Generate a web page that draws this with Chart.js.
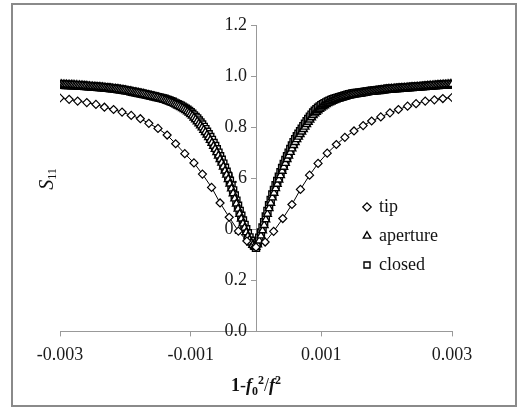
<!DOCTYPE html>
<html><head><meta charset="utf-8">
<script src="https://cdn.jsdelivr.net/npm/chart.js@4/dist/chart.umd.min.js"></script>
<style>html,body{margin:0;padding:0;background:#fff}</style>
</head><body>
<canvas id="c" width="521" height="415"></canvas>
<script>
// ---- data ----
const seriesNames = ['tip', 'aperture', 'closed'];
const xTicks = [-0.003, -0.001, 0.001, 0.003];
const xTickLabels = ['-0.003', '-0.001', '0.001', '0.003'];
const yTicks = [0, 0.2, 0.4, 0.6, 0.8, 1.0, 1.2];
const yTickLabels = ['0.0', '0.2', '0.4', '0.6', '0.8', '1.0', '1.2'];

const tipX = [-0.00300,-0.00286,-0.00273,-0.00259,-0.00245,-0.00232,-0.00218,-0.00205,-0.00191,-0.00177,
-0.00164,-0.00150,-0.00136,-0.00123,-0.00109,-0.00095,-0.00082,-0.00068,-0.00055,-0.00041,
-0.00027,-0.00014,0.00000,0.00014,0.00027,0.00041,0.00055,0.00068,0.00082,0.00095,
0.00109,0.00123,0.00136,0.00150,0.00164,0.00177,0.00191,0.00205,0.00218,0.00232,
0.00245,0.00259,0.00273,0.00286,0.00300];
const tipY = [0.914,0.909,0.902,0.896,0.889,0.878,0.869,0.859,0.846,0.833,
0.815,0.795,0.769,0.735,0.696,0.660,0.616,0.564,0.503,0.447,
0.393,0.354,0.330,0.350,0.392,0.442,0.497,0.556,0.612,0.658,
0.698,0.732,0.760,0.785,0.806,0.824,0.840,0.856,0.869,0.882,
0.892,0.902,0.907,0.912,0.916];

const denseX = [
-0.003,-0.002975,-0.00295,-0.002925,-0.0029,-0.002875,-0.00285,-0.002825,-0.0028,-0.002775,
-0.00275,-0.002725,-0.0027,-0.002675,-0.00265,-0.002625,-0.0026,-0.002575,-0.00255,-0.002525,
-0.0025,-0.002475,-0.00245,-0.002425,-0.0024,-0.002375,-0.00235,-0.002325,-0.0023,-0.002275,
-0.00225,-0.002225,-0.0022,-0.002175,-0.00215,-0.002125,-0.0021,-0.002075,-0.00205,-0.002025,
-0.002,-0.001975,-0.00195,-0.001925,-0.0019,-0.001875,-0.00185,-0.001825,-0.0018,-0.001775,
-0.00175,-0.001725,-0.0017,-0.001675,-0.00165,-0.001625,-0.0016,-0.001575,-0.00155,-0.001525,
-0.0015,-0.001475,-0.00145,-0.001425,-0.0014,-0.001375,-0.00135,-0.001325,-0.0013,-0.001275,
-0.00125,-0.001225,-0.0012,-0.001175,-0.00115,-0.001125,-0.0011,-0.001075,-0.00105,-0.001025,
-0.001,-0.000975,-0.00095,-0.000925,-0.0009,-0.000875,-0.00085,-0.000825,-0.0008,-0.000775,
-0.00075,-0.000725,-0.0007,-0.000675,-0.00065,-0.000625,-0.0006,-0.000575,-0.00055,-0.000525,
-0.0005,-0.000475,-0.00045,-0.000425,-0.0004,-0.000375,-0.00035,-0.000325,-0.0003,-0.000275,
-0.00025,-0.000225,-0.0002,-0.000175,-0.00015,-0.000125,-0.0001,-0.000075,-0.00005,-0.000025,
0,
0.000025,0.00005,0.000075,0.0001,0.000125,0.00015,0.000175,0.0002,0.000225,0.00025,
0.000275,0.0003,0.000325,0.00035,0.000375,0.0004,0.000425,0.00045,0.000475,0.0005,
0.000525,0.00055,0.000575,0.0006,0.000625,0.00065,0.000675,0.0007,0.000725,0.00075,
0.000775,0.0008,0.000825,0.00085,0.000875,0.0009,0.000925,0.00095,0.000975,0.001,
0.001025,0.00105,0.001075,0.0011,0.001125,0.00115,0.001175,0.0012,0.001225,0.00125,
0.001275,0.0013,0.001325,0.00135,0.001375,0.0014,0.001425,0.00145,0.001475,0.0015,
0.001525,0.00155,0.001575,0.0016,0.001625,0.00165,0.001675,0.0017,0.001725,0.00175,
0.001775,0.0018,0.001825,0.00185,0.001875,0.0019,0.001925,0.00195,0.001975,0.002,
0.002025,0.00205,0.002075,0.0021,0.002125,0.00215,0.002175,0.0022,0.002225,0.00225,
0.002275,0.0023,0.002325,0.00235,0.002375,0.0024,0.002425,0.00245,0.002475,0.0025,
0.002525,0.00255,0.002575,0.0026,0.002625,0.00265,0.002675,0.0027,0.002725,0.00275,
0.002775,0.0028,0.002825,0.00285,0.002875,0.0029,0.002925,0.00295,0.002975,0.003];

const apertureY = [
0.967,0.967,0.966,0.966,0.966,0.965,0.965,0.965,0.965,0.964,
0.964,0.963,0.963,0.962,0.962,0.961,0.961,0.960,0.960,0.959,
0.959,0.958,0.958,0.957,0.957,0.956,0.956,0.955,0.954,0.953,
0.953,0.952,0.951,0.950,0.950,0.949,0.948,0.947,0.946,0.945,
0.944,0.942,0.941,0.940,0.939,0.937,0.936,0.935,0.934,0.932,
0.931,0.930,0.928,0.926,0.925,0.923,0.922,0.920,0.919,0.917,
0.916,0.914,0.912,0.910,0.907,0.905,0.902,0.900,0.897,0.894,
0.891,0.888,0.885,0.882,0.878,0.874,0.870,0.866,0.861,0.856,
0.850,0.844,0.837,0.830,0.822,0.814,0.806,0.798,0.789,0.780,
0.770,0.760,0.749,0.738,0.726,0.714,0.701,0.688,0.674,0.660,
0.645,0.629,0.613,0.596,0.578,0.559,0.540,0.520,0.500,0.480,
0.460,0.441,0.422,0.405,0.388,0.372,0.358,0.347,0.338,0.333,
0.330,
0.340,0.355,0.375,0.395,0.416,0.438,0.460,0.482,0.503,0.524,
0.542,0.560,0.577,0.594,0.611,0.628,0.644,0.659,0.674,0.688,
0.702,0.716,0.729,0.741,0.752,0.762,0.772,0.782,0.792,0.801,
0.811,0.820,0.829,0.838,0.846,0.853,0.859,0.865,0.871,0.876,
0.881,0.885,0.889,0.893,0.896,0.899,0.902,0.905,0.908,0.910,
0.912,0.914,0.916,0.918,0.920,0.922,0.924,0.925,0.927,0.928,
0.929,0.930,0.931,0.932,0.933,0.934,0.935,0.936,0.937,0.938,
0.939,0.940,0.941,0.942,0.943,0.944,0.945,0.946,0.947,0.948,
0.949,0.949,0.950,0.950,0.951,0.951,0.952,0.952,0.953,0.953,
0.954,0.954,0.955,0.955,0.956,0.956,0.957,0.957,0.958,0.958,
0.959,0.959,0.960,0.960,0.961,0.961,0.962,0.962,0.963,0.963,
0.964,0.964,0.965,0.965,0.966,0.966,0.967,0.967,0.968,0.968];

const closedY = [
0.966,0.966,0.966,0.965,0.965,0.965,0.965,0.964,0.964,0.964,
0.964,0.963,0.963,0.962,0.962,0.961,0.961,0.960,0.960,0.959,
0.959,0.958,0.958,0.957,0.957,0.956,0.956,0.955,0.955,0.954,
0.953,0.952,0.952,0.951,0.950,0.949,0.948,0.947,0.946,0.945,
0.944,0.943,0.942,0.940,0.939,0.938,0.937,0.935,0.934,0.933,
0.931,0.930,0.929,0.927,0.926,0.924,0.923,0.921,0.920,0.918,
0.917,0.915,0.914,0.912,0.911,0.908,0.906,0.904,0.901,0.899,
0.896,0.893,0.890,0.887,0.884,0.880,0.876,0.872,0.868,0.863,
0.858,0.852,0.846,0.840,0.834,0.826,0.818,0.810,0.801,0.792,
0.782,0.772,0.761,0.750,0.738,0.726,0.713,0.700,0.686,0.672,
0.657,0.641,0.625,0.608,0.590,0.571,0.552,0.532,0.512,0.492,
0.472,0.453,0.434,0.417,0.400,0.384,0.368,0.355,0.343,0.335,
0.328,
0.347,0.367,0.387,0.407,0.428,0.450,0.472,0.494,0.515,0.536,
0.554,0.572,0.589,0.606,0.623,0.640,0.656,0.671,0.686,0.700,
0.714,0.728,0.741,0.753,0.764,0.774,0.784,0.794,0.804,0.813,
0.823,0.832,0.841,0.849,0.857,0.864,0.870,0.876,0.881,0.886,
0.890,0.894,0.897,0.900,0.903,0.906,0.909,0.911,0.913,0.915,
0.917,0.919,0.921,0.923,0.925,0.927,0.929,0.930,0.932,0.933,
0.934,0.934,0.935,0.936,0.937,0.938,0.939,0.940,0.941,0.942,
0.943,0.943,0.944,0.944,0.945,0.945,0.946,0.947,0.948,0.949,
0.950,0.950,0.951,0.951,0.952,0.952,0.953,0.953,0.954,0.954,
0.955,0.955,0.956,0.956,0.957,0.957,0.958,0.958,0.959,0.959,
0.960,0.960,0.961,0.961,0.962,0.962,0.963,0.963,0.964,0.964,
0.965,0.965,0.966,0.966,0.967,0.967,0.967,0.967,0.968,0.968];

// ---- helpers ----
const SERIF = 'Liberation Serif';
function pts(xs, ys) { return xs.map((x, i) => ({ x: x, y: ys[i] })); }

function drawRich(ctx, parts, cx, cy) {
  let total = 0;
  parts.forEach(p => { ctx.font = p.font; p.w = ctx.measureText(p.t).width; total += p.w; });
  let x = cx - total / 2;
  ctx.textAlign = 'left';
  ctx.textBaseline = 'alphabetic';
  parts.forEach(p => { ctx.font = p.font; ctx.fillText(p.t, x, cy + (p.dy || 0)); x += p.w; });
}

const decor = {
  id: 'decor',
  beforeDraw(chart) {
    const ctx = chart.ctx;
    ctx.save();
    ctx.fillStyle = '#fff';
    ctx.fillRect(0, 0, chart.width, chart.height);
    ctx.strokeStyle = '#8a8a8a';
    ctx.lineWidth = 2;
    ctx.strokeRect(12, 4, 504, 402);
    ctx.restore();
    // y-axis sits at x = 0: put its labels left of the tick marks
    const ys = chart.scales.y;
    const items = ys.getLabelItems(chart.chartArea);
    items.forEach(it => {
      if (!it._moved) { it.options.translation[0] -= 9; it._moved = true; }
    });
  },
  afterLayout(chart) {
    const lg = chart.legend;
    if (lg) {
      const w = lg.width, h = lg.height;
      lg.left = 353; lg.top = 187;
      lg.right = lg.left + w; lg.bottom = lg.top + h;
    }
  },
  afterDraw(chart) {
    const ctx = chart.ctx;
    ctx.save();
    ctx.fillStyle = '#111';
    drawRich(ctx, [
      { t: '1', font: 'bold 18px ' + SERIF },
      { t: '-', font: '18px ' + SERIF },
      { t: 'f', font: 'italic bold 18px ' + SERIF },
      { t: '0', font: 'bold 12px ' + SERIF, dy: 4 },
      { t: '2', font: 'bold 12px ' + SERIF, dy: -7 },
      { t: '/', font: '18px ' + SERIF },
      { t: 'f', font: 'italic bold 18px ' + SERIF },
      { t: '2', font: 'bold 12px ' + SERIF, dy: -7 }
    ], 256, 391);
    ctx.translate(53, 179);
    ctx.rotate(-Math.PI / 2);
    drawRich(ctx, [
      { t: 'S', font: 'italic 20px ' + SERIF },
      { t: '11', font: '12px ' + SERIF, dy: 3 }
    ], 0, 0);
    ctx.restore();
  }
};

Chart.defaults.font.family = SERIF;

new Chart(document.getElementById('c'), {
  type: 'scatter',
  data: {
    datasets: [
      { label: seriesNames[0], data: pts(tipX, tipY), showLine: true, borderColor: '#000', borderWidth: 1,
        pointStyle: 'rectRot', pointRadius: 4, pointBorderColor: '#000', pointBackgroundColor: '#fff', pointBorderWidth: 1.2 },
      { label: seriesNames[1], data: pts(denseX, apertureY), showLine: true, borderColor: '#000', borderWidth: 1,
        pointStyle: 'triangle', pointRadius: 4.5, pointBorderColor: '#000', pointBackgroundColor: '#fff', pointBorderWidth: 1.4 },
      { label: seriesNames[2], data: pts(denseX, closedY), showLine: true, borderColor: '#000', borderWidth: 1,
        pointStyle: 'rect', pointRadius: 5, pointBorderColor: '#000', pointBackgroundColor: '#fff', pointBorderWidth: 1.4 }
    ]
  },
  options: {
    responsive: false,
    devicePixelRatio: 1,
    animation: false,
    events: [],
    layout: { padding: { left: 60, right: 69, top: 25, bottom: 41 } },
    scales: {
      x: {
        type: 'linear', min: -0.003, max: 0.003, position: 'bottom',
        afterBuildTicks: s => { s.ticks = xTicks.map(v => ({ value: v })); },
        ticks: { callback: (v, i) => xTickLabels[i], font: { family: SERIF, size: 18 }, color: '#1a1a1a',
                 padding: 8, maxRotation: 0, autoSkip: false },
        grid: { drawOnChartArea: false, drawTicks: true, tickLength: 5, color: '#999' },
        border: { color: '#999', width: 1 }
      },
      y: {
        type: 'linear', min: 0, max: 1.2, position: { x: 0 },
        afterBuildTicks: s => { s.ticks = yTicks.map(v => ({ value: v })); },
        ticks: { callback: (v, i) => yTickLabels[i], font: { family: SERIF, size: 18 }, color: '#1a1a1a',
                 padding: 4, autoSkip: false },
        grid: { drawOnChartArea: false, drawTicks: true, tickLength: 5, color: '#999' },
        border: { color: '#999', width: 1 }
      }
    },
    plugins: {
      tooltip: { enabled: false },
      legend: {
        position: 'chartArea', align: 'start',
        labels: { usePointStyle: true, boxWidth: 6, boxHeight: 6, padding: 11,
                  font: { family: SERIF, size: 18 }, color: '#111' }
      }
    }
  },
  plugins: [decor]
});
</script>
</body></html>
